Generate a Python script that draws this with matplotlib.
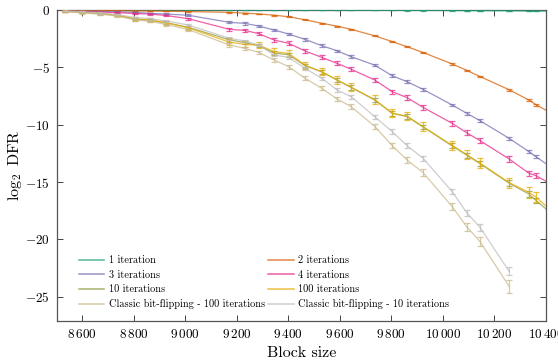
import matplotlib
matplotlib.use("Agg")
import matplotlib.pyplot as plt

plt.rcParams["font.family"] = "serif"
plt.rcParams["font.serif"] = ["cmr10", "DejaVu Serif"]
plt.rcParams["mathtext.fontset"] = "cm"
plt.rcParams["axes.formatter.use_mathtext"] = True

# block sizes where the DFR was estimated (last one lies past the x range)
block = [8533, 8598, 8669, 8734, 8805, 8863, 8925, 9012, 9172, 9233, 9285, 9346,
         9402, 9466, 9531, 9590, 9645, 9736, 9804, 9862, 9924, 10037, 10093,
         10145, 10258, 10335, 10362, 10430]
block_classic = block[:25]

it1 = [0.0, 0.0, 0.0, 0.0, 0.0, 0.0, 0.0, 0.0, 0.0, 0.0, 0.0, -0.01, -0.01,
       -0.01, -0.01, -0.01, -0.02, -0.02, -0.02, -0.03, -0.03, -0.04, -0.05,
       -0.05, -0.06, -0.08, -0.08, -0.1]
it2 = [-0.02, -0.03, -0.04, -0.05, -0.07, -0.08, -0.1, -0.13, -0.2, -0.27, -0.33,
       -0.45, -0.58, -0.85, -1.15, -1.4, -1.68, -2.25, -2.75, -3.2, -3.7, -4.7,
       -5.25, -5.8, -6.95, -7.85, -8.25, -9.1]
it3 = [-0.08, -0.1, -0.12, -0.15, -0.2, -0.28, -0.35, -0.45, -1.07, -1.16, -1.39,
       -1.74, -2.09, -2.56, -3.11, -3.55, -4.07, -4.8, -5.73, -6.25, -6.92, -8.28,
       -9.0, -9.65, -11.19, -12.35, -12.79, -13.85]
it4 = [-0.1, -0.13, -0.17, -0.22, -0.3, -0.35, -0.47, -0.75, -1.68, -1.78, -2.05,
       -2.62, -2.9, -3.57, -4.13, -4.65, -5.17, -6.1, -7.12, -7.64, -8.49, -9.88,
       -10.7, -11.39, -12.99, -14.24, -14.44, -15.3]
it10 = [-0.1, -0.2, -0.3, -0.45, -0.78, -0.88, -1.1, -1.5, -2.6, -2.85, -3.1,
        -3.75, -3.9, -4.85, -5.4, -6.1, -6.75, -7.85, -9.0, -9.3, -10.2, -11.85,
        -12.65, -13.4, -15.1, -16.05, -16.6, -17.9]
it100 = [-0.1, -0.2, -0.29, -0.44, -0.78, -0.87, -1.1, -1.55, -2.8, -3.0, -3.05,
         -3.63, -3.78, -4.8, -5.38, -6.1, -6.74, -7.8, -9.0, -9.25, -10.17, -11.8,
         -12.6, -13.35, -15.05, -15.9, -16.3, -17.7]
cl100 = [-0.12, -0.25, -0.36, -0.52, -0.85, -0.98, -1.25, -1.7, -3.05, -3.34,
         -3.69, -4.36, -4.94, -5.96, -6.83, -7.76, -8.43, -10.15, -11.83, -13.08,
         -14.18, -17.15, -18.89, -20.2, -24.1]
cl10 = [-0.08, -0.15, -0.25, -0.38, -0.65, -0.75, -0.95, -1.3, -2.47, -2.7, -3.05,
        -3.92, -4.13, -5.09, -5.96, -6.97, -7.56, -9.3, -10.6, -11.83, -12.93,
        -15.84, -17.67, -18.95, -22.8]

# half-widths of the error bars
err1 = [0.01, 0.01, 0.01, 0.01, 0.01, 0.01, 0.01, 0.01, 0.01, 0.01, 0.01, 0.01,
        0.01, 0.01, 0.01, 0.01, 0.01, 0.01, 0.01, 0.01, 0.01, 0.01, 0.01, 0.01,
        0.01, 0.01, 0.01, 0.01]
err2 = [0.02, 0.02, 0.02, 0.02, 0.02, 0.02, 0.02, 0.03, 0.03, 0.03, 0.03, 0.03,
        0.04, 0.04, 0.04, 0.04, 0.04, 0.05, 0.05, 0.05, 0.05, 0.06, 0.06, 0.06,
        0.07, 0.08, 0.08, 0.09]
err3 = [0.03, 0.03, 0.04, 0.04, 0.05, 0.05, 0.06, 0.07, 0.1, 0.1, 0.1, 0.1,
        0.11, 0.11, 0.11, 0.11, 0.11, 0.12, 0.12, 0.12, 0.12, 0.13, 0.13, 0.13,
        0.14, 0.15, 0.15, 0.16]
err4 = [0.04, 0.05, 0.05, 0.06, 0.07, 0.08, 0.09, 0.1, 0.14, 0.14, 0.15, 0.15,
        0.16, 0.16, 0.17, 0.17, 0.17, 0.18, 0.18, 0.19, 0.19, 0.2, 0.2, 0.21,
        0.22, 0.23, 0.23, 0.24]
err10 = [0.05, 0.06, 0.07, 0.08, 0.1, 0.1, 0.11, 0.12, 0.15, 0.15, 0.16, 0.16,
         0.17, 0.17, 0.18, 0.18, 0.19, 0.2, 0.2, 0.2, 0.21, 0.22, 0.22, 0.23,
         0.24, 0.25, 0.25, 0.26]
err100 = [0.08, 0.09, 0.1, 0.12, 0.14, 0.15, 0.17, 0.2, 0.25, 0.26, 0.27, 0.28,
          0.3, 0.3, 0.32, 0.33, 0.34, 0.35, 0.36, 0.37, 0.38, 0.4, 0.41, 0.42,
          0.44, 0.46, 0.46, 0.48]
errc100 = [0.05, 0.06, 0.07, 0.08, 0.09, 0.1, 0.1, 0.11, 0.14, 0.14, 0.15, 0.15,
           0.16, 0.17, 0.18, 0.19, 0.2, 0.22, 0.24, 0.26, 0.28, 0.32, 0.36, 0.4,
           0.55]
errc10 = [0.04, 0.05, 0.05, 0.06, 0.07, 0.08, 0.08, 0.09, 0.11, 0.11, 0.12, 0.12,
          0.13, 0.14, 0.14, 0.15, 0.16, 0.18, 0.19, 0.2, 0.21, 0.24, 0.26, 0.28,
          0.35]

labels = ["1 iteration", "2 iterations", "3 iterations", "4 iterations",
          "10 iterations", "100 iterations",
          "Classic bit-flipping - 100 iterations",
          "Classic bit-flipping - 10 iterations"]
colors = ["#1b9e77", "#d95f02", "#7570b3", "#e7298a", "#8f9a3c", "#e6ab02",
          "#c9b98a", "#bdbdbd"]

xs = [block] * 6 + [block_classic] * 2
ys = [it1, it2, it3, it4, it10, it100, cl100, cl10]
errs = [err1, err2, err3, err4, err10, err100, errc100, errc10]

fig = plt.figure(figsize=(5.58, 3.6), dpi=100)
ax = fig.add_axes([0.102, 0.109, 0.876, 0.863])

for i in [6, 7, 0, 1, 2, 3, 4, 5]:
    ax.errorbar(xs[i], ys[i], yerr=errs[i], color=colors[i], lw=0.9,
                elinewidth=0.9, capsize=2.2, capthick=0.9, alpha=0.75,
                zorder=3 + i * 0.1)
handles = [ax.plot([], [], color=c, lw=1.1, alpha=0.75)[0] for c in colors]

# legend is filled row by row, matplotlib fills columns
order = [0, 2, 4, 6, 1, 3, 5, 7]
ax.legend([handles[i] for i in order], [labels[i] for i in order],
          ncol=2, loc="upper left", bbox_to_anchor=(0.036, 0.222),
          frameon=False, fontsize=7.4, handlelength=2.5,
          handletextpad=0.45, columnspacing=0.3, labelspacing=0.48,
          borderaxespad=0)

ax.set_xlim(8502, 10400)
ax.set_ylim(-27.1, 0)
xticks = [8600, 8800, 9000, 9200, 9400, 9600, 9800, 10000, 10200, 10400]
ax.set_xticks(xticks)
ax.set_xticklabels([r"$%d\,%03d$" % (t // 1000, t % 1000) for t in xticks])
yticks = [0, -5, -10, -15, -20, -25]
ax.set_yticks(yticks)
ax.set_yticklabels([r"$%d$" % t for t in yticks])

ax.tick_params(direction="in", top=True, right=True, length=4, width=0.7,
               labelsize=9.5, colors="#444444", labelcolor="black", pad=5)
for s in ax.spines.values():
    s.set_color("#555555")
    s.set_linewidth(0.9)

ax.set_xlabel("Block size", fontsize=11.5, labelpad=4)
ax.set_ylabel(r"$\log_2$ DFR", fontsize=11.5, labelpad=1)

fig.savefig("out.png", dpi=100)
